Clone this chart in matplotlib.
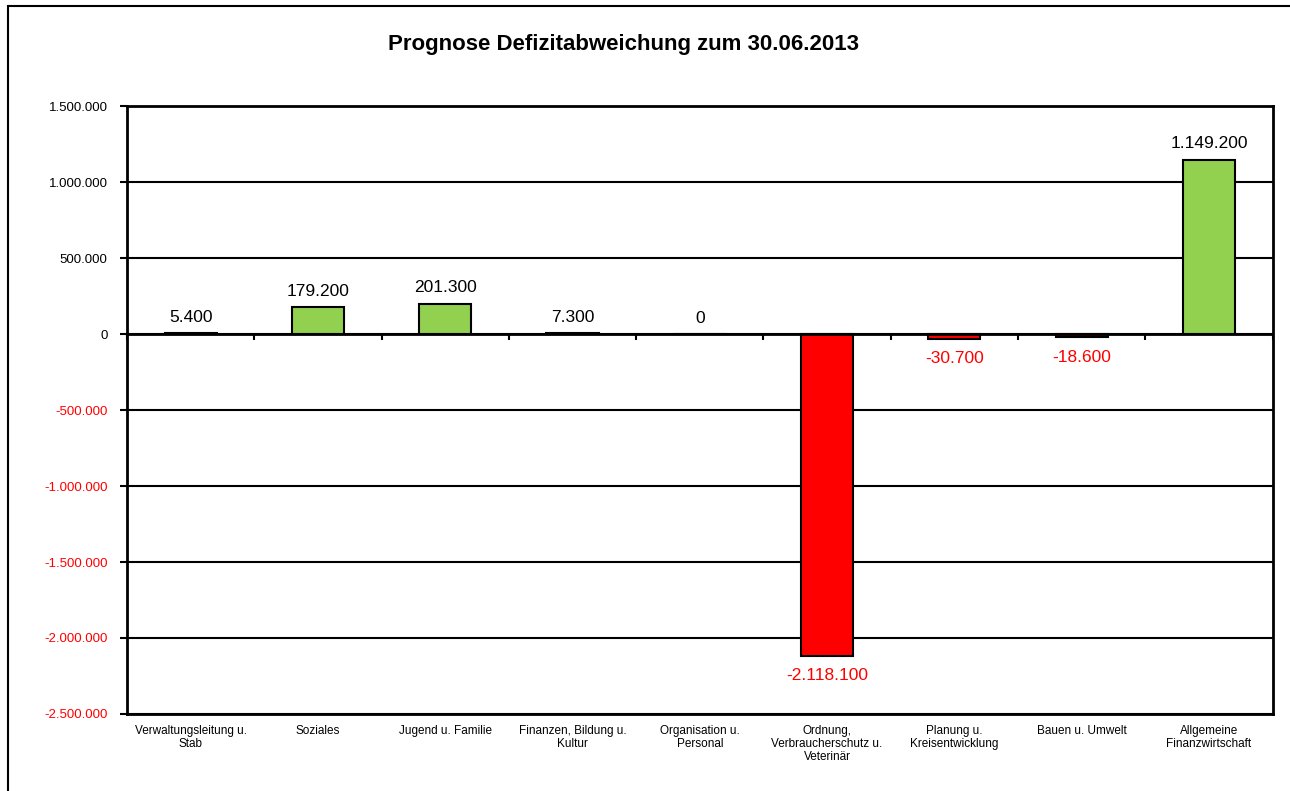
import numpy as np
import matplotlib
matplotlib.use("Agg")
import matplotlib.pyplot as plt
from matplotlib.patches import Rectangle
from matplotlib.ticker import FuncFormatter

plt.rcParams['font.family'] = ['Liberation Sans', 'DejaVu Sans']

# data
categories = ["Verwaltungsleitung u.\nStab", "Soziales", "Jugend u. Familie",
              "Finanzen, Bildung u.\nKultur", "Organisation u.\nPersonal",
              "Ordnung,\nVerbraucherschutz u.\nVeterinär", "Planung u.\nKreisentwicklung",
              "Bauen u. Umwelt", "Allgemeine\nFinanzwirtschaft"]
values = [5400, 179200, 201300, 7300, 0, -2118100, -30700, -18600, 1149200]
y_ticks = [-2500000, -2000000, -1500000, -1000000, -500000, 0, 500000, 1000000, 1500000]

GREEN = "#92D050"
RED = "#FF0000"


def de_fmt(v, pos=None):
    return "{:,.0f}".format(v).replace(",", ".")


fig = plt.figure(figsize=(12.9, 7.91), dpi=100)
ax = fig.add_axes([0.0985, 0.0975, 0.888, 0.768])

x = np.arange(len(categories))
colors = [GREEN if v >= 0 else RED for v in values]
ax.bar(x, values, width=0.41, color=colors, edgecolor="black", linewidth=1.5, zorder=3)

ax.set_xlim(-0.5, len(categories) - 0.5)
ax.set_ylim(y_ticks[0], y_ticks[-1])
ax.set_yticks(y_ticks)
ax.yaxis.set_major_formatter(FuncFormatter(de_fmt))
ax.tick_params(axis="y", length=5, width=1.5, labelsize=9.5, pad=9)
for lbl, v in zip(ax.get_yticklabels(), y_ticks):
    lbl.set_color(RED if v < 0 else "black")
ax.grid(axis="y", color="black", linewidth=1.5, zorder=1)
ax.axhline(0, color="black", linewidth=2, zorder=4)

ax.set_xticks(x)
ax.set_xticklabels(categories, fontsize=8.5, linespacing=1.1)
ax.tick_params(axis="x", length=0, pad=8)

# tick marks on zero line between categories (pointing down)
sec = ax.secondary_xaxis((0 - y_ticks[0]) / (y_ticks[-1] - y_ticks[0]))
sec.set_xticks(np.arange(len(categories) + 1) - 0.5)
sec.tick_params(axis="x", length=4, width=1.5, labelbottom=False, labeltop=False,
                direction="in")
sec.spines["bottom"].set_visible(False)
sec.spines["top"].set_visible(False)

for s in ax.spines.values():
    s.set_linewidth(2)

for xi, v in zip(x, values):
    if v >= 0:
        ax.annotate(de_fmt(v), (xi, v), xytext=(0, 6), textcoords="offset points",
                    ha="center", va="bottom", fontsize=12.5, color="black")
    else:
        ax.annotate(de_fmt(v), (xi, v), xytext=(0, -9), textcoords="offset points",
                    ha="center", va="top", fontsize=12.5, color=RED)

fig.text(0.483, 0.944, "Prognose Defizitabweichung zum 30.06.2013", ha="center",
         va="center", fontsize=16, fontweight="bold")

# outer chart frame (left and top edges visible)
fig.add_artist(Rectangle((8 / 1290, -0.1), 1.1, 1.1 - 6 / 791, transform=fig.transFigure,
                         fill=False, edgecolor="black", linewidth=1.5))

fig.savefig("out.png", dpi=100)
